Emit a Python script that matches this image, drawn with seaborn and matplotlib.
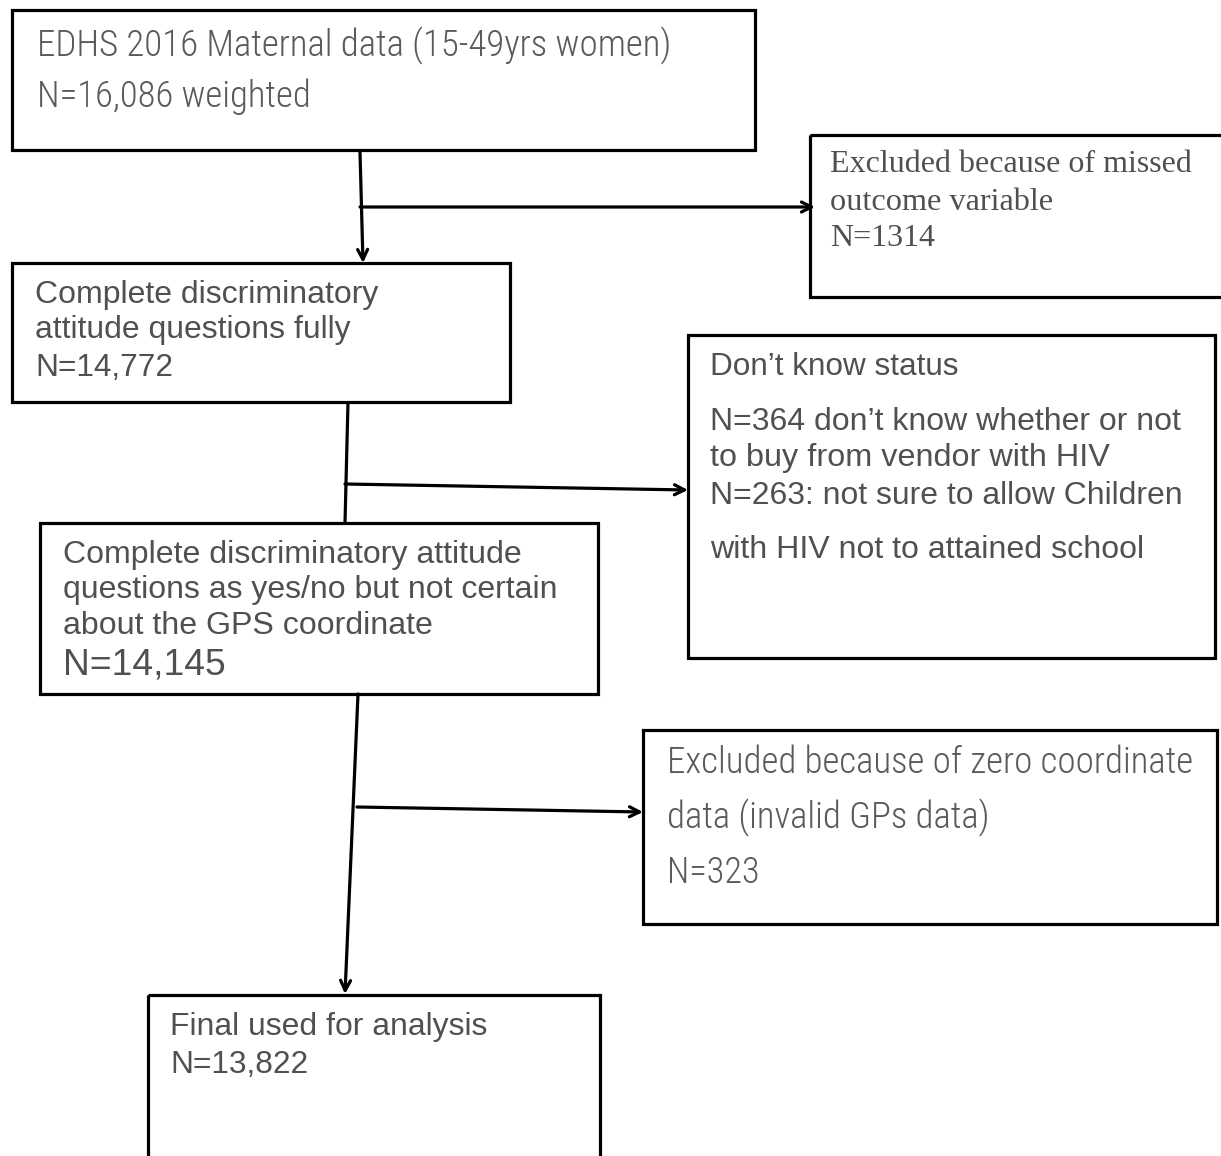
import matplotlib
matplotlib.use("Agg")
import matplotlib.pyplot as plt
from matplotlib.patches import Rectangle
from matplotlib import font_manager
import seaborn as sns

sns.set_theme(style="white")

# ---- content ----
box1_lines = ["EDHS 2016 Maternal data (15-49yrs women)", "N=16,086 weighted"]
excl1_lines = ["Excluded because of missed", "outcome variable", "N=1314"]
box2_lines = ["Complete discriminatory", "attitude questions fully", "N=14,772"]
dk_lines = ["Don\u2019t know status",
            "N=364 don\u2019t know whether or not",
            "to buy from vendor with HIV",
            "N=263: not sure to allow Children",
            "with HIV not to attained school"]
box3_lines = ["Complete discriminatory attitude",
              "questions as yes/no but not certain",
              "about the GPS coordinate",
              "N=14,145"]
zero_lines = ["Excluded because of zero coordinate", "data (invalid GPs data)", "N=323"]
final_lines = ["Final used for analysis", "N=13,822"]

entries = font_manager.fontManager.ttflist
names = {f.name for f in entries}
narrow = None
for cand in ["Liberation Sans Narrow", "Arial Narrow", "Roboto Condensed",
             "DejaVu Sans Condensed", "Open Sans Condensed", "Noto Sans Display"]:
    if cand in names:
        narrow = cand
        break
if narrow is None:
    for f in entries:
        if ("Narrow" in f.name or "Condensed" in f.name) and "Serif" not in f.name \
                and "Mono" not in f.name:
            narrow = f.name
            break
if narrow is None:
    narrow = "Roboto" if "Roboto" in names else "Liberation Sans"
sans = "Liberation Sans"
serif = "Liberation Serif"

W, H = 1221, 1156
fig = plt.figure(figsize=(W / 100, H / 100), dpi=100)
fig.patch.set_facecolor("white")
ax = fig.add_axes([0, 0, 1, 1])
ax.set_xlim(0, W)
ax.set_ylim(H, 0)
ax.axis("off")
renderer = fig.canvas.get_renderer()

TXT = "#505050"
LW = 2.3

def box(x0, y0, x1, y1):
    ax.add_patch(Rectangle((x0, y0), x1 - x0, y1 - y0, fill=False,
                           edgecolor="black", lw=LW, zorder=2))

def put(lines, x, ys, rights, family, weight="normal", color=TXT):
    for s, y, r in zip(lines, ys, rights):
        t = ax.text(x, y, s, fontsize=20, family=family, color=color,
                    fontweight=weight, ha="left", va="center", zorder=3)
        bb = t.get_window_extent(renderer)
        t.set_fontsize(20 * (r - x) / bb.width)

def line(p, q):
    ax.plot([p[0], q[0]], [p[1], q[1]], color="black", lw=LW,
            solid_capstyle="butt", zorder=1)

def arrow(p, q):
    ax.annotate("", xy=q, xytext=p,
                arrowprops=dict(arrowstyle="->,head_length=0.6,head_width=0.3",
                                lw=LW, color="black", shrinkA=0, shrinkB=0),
                zorder=1)

# boxes
box(12, 10, 755, 150)
box(810, 135, 1235, 297)
box(12, 263, 510, 402)
box(688, 335, 1215, 658)
box(40, 523, 598, 694)
box(643, 730, 1217, 924)
box(148, 995, 600, 1175)

# texts
put(box1_lines, 37, [46, 97], [672, 310], narrow, "light", "#5a5a5a")
put(excl1_lines, 830, [165, 202, 238], [1192, 1053, 935], serif)
put(box2_lines, 35, [295, 330, 368], [378, 350, 173], sans)
put(dk_lines, 710, [367, 422, 458, 496, 550], [958, 1180, 1108, 1182, 1142], sans)
put(box3_lines, 63, [555, 590, 626, 665], [520, 557, 432, 226], sans)
put(zero_lines, 667, [763, 818, 873], [1193, 990, 760], narrow, "light", "#5a5a5a")
put(final_lines, 170, [1027, 1065], [487, 308], sans)

# connectors
arrow((360, 152), (363, 263))
arrow((360, 207), (815, 207))
line((348, 402), (345, 523))
arrow((345, 484), (688, 490))
arrow((358, 694), (345, 994))
arrow((357, 807), (643, 812))

fig.savefig("out.png", dpi=100, facecolor="white")
